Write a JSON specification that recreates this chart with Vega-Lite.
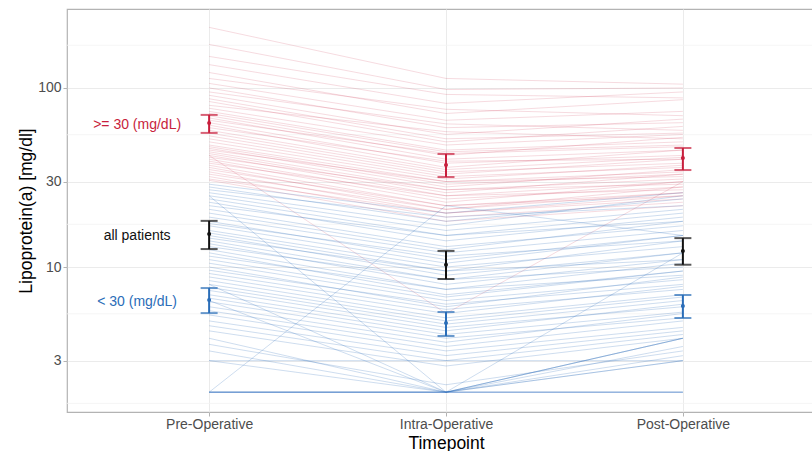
{
  "$schema": "https://vega.github.io/schema/vega-lite/v6.json",
  "width": 758,
  "height": 403,
  "autosize": {"type": "none"},
  "padding": {"left": 67, "top": 9, "right": 0, "bottom": 39},
  "background": "white",
  "config": {
    "view": {"stroke": "#b3b3b3", "strokeWidth": 1.2},
    "font": "Liberation Sans"
  },
  "datasets": {
    "minor": [{"v": 1.732}, {"v": 5.477}, {"v": 17.32}, {"v": 54.77}, {"v": 173.2}],
    "summary": [
      {"group": "high", "label": ">= 30 (mg/dL)", "time": "Pre-Operative", "mean": 63.7, "lo": 56.1, "hi": 70.7},
      {"group": "high", "label": ">= 30 (mg/dL)", "time": "Intra-Operative", "mean": 37.1, "lo": 31.8, "hi": 42.8},
      {"group": "high", "label": ">= 30 (mg/dL)", "time": "Post-Operative", "mean": 40.6, "lo": 34.8, "hi": 46.2},
      {"group": "all", "label": "all patients", "time": "Pre-Operative", "mean": 15.3, "lo": 12.6, "hi": 18.1},
      {"group": "all", "label": "all patients", "time": "Intra-Operative", "mean": 10.3, "lo": 8.57, "hi": 12.3},
      {"group": "all", "label": "all patients", "time": "Post-Operative", "mean": 12.3, "lo": 10.3, "hi": 14.5},
      {"group": "low", "label": "< 30 (mg/dL)", "time": "Pre-Operative", "mean": 6.54, "lo": 5.53, "hi": 7.63},
      {"group": "low", "label": "< 30 (mg/dL)", "time": "Intra-Operative", "mean": 4.87, "lo": 4.12, "hi": 5.61},
      {"group": "low", "label": "< 30 (mg/dL)", "time": "Post-Operative", "mean": 6.05, "lo": 5.19, "hi": 6.98}
    ],
    "patients": [
      {"id": "r1", "group": "high", "time": "Pre-Operative", "lpa": 218}, {"id": "r1", "group": "high", "time": "Intra-Operative", "lpa": 113}, {"id": "r1", "group": "high", "time": "Post-Operative", "lpa": 105},
      {"id": "r2", "group": "high", "time": "Pre-Operative", "lpa": 175}, {"id": "r2", "group": "high", "time": "Intra-Operative", "lpa": 98}, {"id": "r2", "group": "high", "time": "Post-Operative", "lpa": 100},
      {"id": "r3", "group": "high", "time": "Pre-Operative", "lpa": 150}, {"id": "r3", "group": "high", "time": "Intra-Operative", "lpa": 92}, {"id": "r3", "group": "high", "time": "Post-Operative", "lpa": 88},
      {"id": "r4", "group": "high", "time": "Pre-Operative", "lpa": 135}, {"id": "r4", "group": "high", "time": "Intra-Operative", "lpa": 82}, {"id": "r4", "group": "high", "time": "Post-Operative", "lpa": 95},
      {"id": "r5", "group": "high", "time": "Pre-Operative", "lpa": 122}, {"id": "r5", "group": "high", "time": "Intra-Operative", "lpa": 72}, {"id": "r5", "group": "high", "time": "Post-Operative", "lpa": 86},
      {"id": "r6", "group": "high", "time": "Pre-Operative", "lpa": 113}, {"id": "r6", "group": "high", "time": "Intra-Operative", "lpa": 76}, {"id": "r6", "group": "high", "time": "Post-Operative", "lpa": 70},
      {"id": "r7", "group": "high", "time": "Pre-Operative", "lpa": 106}, {"id": "r7", "group": "high", "time": "Intra-Operative", "lpa": 66}, {"id": "r7", "group": "high", "time": "Post-Operative", "lpa": 74},
      {"id": "r8", "group": "high", "time": "Pre-Operative", "lpa": 100}, {"id": "r8", "group": "high", "time": "Intra-Operative", "lpa": 60}, {"id": "r8", "group": "high", "time": "Post-Operative", "lpa": 64},
      {"id": "r9", "group": "high", "time": "Pre-Operative", "lpa": 95}, {"id": "r9", "group": "high", "time": "Intra-Operative", "lpa": 63}, {"id": "r9", "group": "high", "time": "Post-Operative", "lpa": 58},
      {"id": "r10", "group": "high", "time": "Pre-Operative", "lpa": 91}, {"id": "r10", "group": "high", "time": "Intra-Operative", "lpa": 55}, {"id": "r10", "group": "high", "time": "Post-Operative", "lpa": 67},
      {"id": "r11", "group": "high", "time": "Pre-Operative", "lpa": 87}, {"id": "r11", "group": "high", "time": "Intra-Operative", "lpa": 52}, {"id": "r11", "group": "high", "time": "Post-Operative", "lpa": 56},
      {"id": "r12", "group": "high", "time": "Pre-Operative", "lpa": 84}, {"id": "r12", "group": "high", "time": "Intra-Operative", "lpa": 50}, {"id": "r12", "group": "high", "time": "Post-Operative", "lpa": 61},
      {"id": "r13", "group": "high", "time": "Pre-Operative", "lpa": 80}, {"id": "r13", "group": "high", "time": "Intra-Operative", "lpa": 57}, {"id": "r13", "group": "high", "time": "Post-Operative", "lpa": 52},
      {"id": "r14", "group": "high", "time": "Pre-Operative", "lpa": 77}, {"id": "r14", "group": "high", "time": "Intra-Operative", "lpa": 48}, {"id": "r14", "group": "high", "time": "Post-Operative", "lpa": 55},
      {"id": "r15", "group": "high", "time": "Pre-Operative", "lpa": 74}, {"id": "r15", "group": "high", "time": "Intra-Operative", "lpa": 45}, {"id": "r15", "group": "high", "time": "Post-Operative", "lpa": 50},
      {"id": "r16", "group": "high", "time": "Pre-Operative", "lpa": 72}, {"id": "r16", "group": "high", "time": "Intra-Operative", "lpa": 44}, {"id": "r16", "group": "high", "time": "Post-Operative", "lpa": 48},
      {"id": "r17", "group": "high", "time": "Pre-Operative", "lpa": 70}, {"id": "r17", "group": "high", "time": "Intra-Operative", "lpa": 42}, {"id": "r17", "group": "high", "time": "Post-Operative", "lpa": 53},
      {"id": "r18", "group": "high", "time": "Pre-Operative", "lpa": 68}, {"id": "r18", "group": "high", "time": "Intra-Operative", "lpa": 40}, {"id": "r18", "group": "high", "time": "Post-Operative", "lpa": 45},
      {"id": "r19", "group": "high", "time": "Pre-Operative", "lpa": 66}, {"id": "r19", "group": "high", "time": "Intra-Operative", "lpa": 43}, {"id": "r19", "group": "high", "time": "Post-Operative", "lpa": 47},
      {"id": "r20", "group": "high", "time": "Pre-Operative", "lpa": 64}, {"id": "r20", "group": "high", "time": "Intra-Operative", "lpa": 38}, {"id": "r20", "group": "high", "time": "Post-Operative", "lpa": 42},
      {"id": "r21", "group": "high", "time": "Pre-Operative", "lpa": 62}, {"id": "r21", "group": "high", "time": "Intra-Operative", "lpa": 36}, {"id": "r21", "group": "high", "time": "Post-Operative", "lpa": 45},
      {"id": "r22", "group": "high", "time": "Pre-Operative", "lpa": 60}, {"id": "r22", "group": "high", "time": "Intra-Operative", "lpa": 39}, {"id": "r22", "group": "high", "time": "Post-Operative", "lpa": 40},
      {"id": "r23", "group": "high", "time": "Pre-Operative", "lpa": 58}, {"id": "r23", "group": "high", "time": "Intra-Operative", "lpa": 35}, {"id": "r23", "group": "high", "time": "Post-Operative", "lpa": 41},
      {"id": "r24", "group": "high", "time": "Pre-Operative", "lpa": 56}, {"id": "r24", "group": "high", "time": "Intra-Operative", "lpa": 34}, {"id": "r24", "group": "high", "time": "Post-Operative", "lpa": 38},
      {"id": "r25", "group": "high", "time": "Pre-Operative", "lpa": 54}, {"id": "r25", "group": "high", "time": "Intra-Operative", "lpa": 33}, {"id": "r25", "group": "high", "time": "Post-Operative", "lpa": 40},
      {"id": "r26", "group": "high", "time": "Pre-Operative", "lpa": 52}, {"id": "r26", "group": "high", "time": "Intra-Operative", "lpa": 32}, {"id": "r26", "group": "high", "time": "Post-Operative", "lpa": 36},
      {"id": "r27", "group": "high", "time": "Pre-Operative", "lpa": 50}, {"id": "r27", "group": "high", "time": "Intra-Operative", "lpa": 31}, {"id": "r27", "group": "high", "time": "Post-Operative", "lpa": 37},
      {"id": "r28", "group": "high", "time": "Pre-Operative", "lpa": 48}, {"id": "r28", "group": "high", "time": "Intra-Operative", "lpa": 30}, {"id": "r28", "group": "high", "time": "Post-Operative", "lpa": 34},
      {"id": "r29", "group": "high", "time": "Pre-Operative", "lpa": 47}, {"id": "r29", "group": "high", "time": "Intra-Operative", "lpa": 29}, {"id": "r29", "group": "high", "time": "Post-Operative", "lpa": 33},
      {"id": "r30", "group": "high", "time": "Pre-Operative", "lpa": 46}, {"id": "r30", "group": "high", "time": "Intra-Operative", "lpa": 28}, {"id": "r30", "group": "high", "time": "Post-Operative", "lpa": 35},
      {"id": "r31", "group": "high", "time": "Pre-Operative", "lpa": 45}, {"id": "r31", "group": "high", "time": "Intra-Operative", "lpa": 30}, {"id": "r31", "group": "high", "time": "Post-Operative", "lpa": 32},
      {"id": "r32", "group": "high", "time": "Pre-Operative", "lpa": 44}, {"id": "r32", "group": "high", "time": "Intra-Operative", "lpa": 27}, {"id": "r32", "group": "high", "time": "Post-Operative", "lpa": 31},
      {"id": "r33", "group": "high", "time": "Pre-Operative", "lpa": 43}, {"id": "r33", "group": "high", "time": "Intra-Operative", "lpa": 26}, {"id": "r33", "group": "high", "time": "Post-Operative", "lpa": 33},
      {"id": "r34", "group": "high", "time": "Pre-Operative", "lpa": 42}, {"id": "r34", "group": "high", "time": "Intra-Operative", "lpa": 25}, {"id": "r34", "group": "high", "time": "Post-Operative", "lpa": 30},
      {"id": "r35", "group": "high", "time": "Pre-Operative", "lpa": 41}, {"id": "r35", "group": "high", "time": "Intra-Operative", "lpa": 27}, {"id": "r35", "group": "high", "time": "Post-Operative", "lpa": 29},
      {"id": "r36", "group": "high", "time": "Pre-Operative", "lpa": 40}, {"id": "r36", "group": "high", "time": "Intra-Operative", "lpa": 24}, {"id": "r36", "group": "high", "time": "Post-Operative", "lpa": 28},
      {"id": "r37", "group": "high", "time": "Pre-Operative", "lpa": 39}, {"id": "r37", "group": "high", "time": "Intra-Operative", "lpa": 23}, {"id": "r37", "group": "high", "time": "Post-Operative", "lpa": 30},
      {"id": "r38", "group": "high", "time": "Pre-Operative", "lpa": 38}, {"id": "r38", "group": "high", "time": "Intra-Operative", "lpa": 25}, {"id": "r38", "group": "high", "time": "Post-Operative", "lpa": 27},
      {"id": "r39", "group": "high", "time": "Pre-Operative", "lpa": 37}, {"id": "r39", "group": "high", "time": "Intra-Operative", "lpa": 22}, {"id": "r39", "group": "high", "time": "Post-Operative", "lpa": 26},
      {"id": "r40", "group": "high", "time": "Pre-Operative", "lpa": 36}, {"id": "r40", "group": "high", "time": "Intra-Operative", "lpa": 21}, {"id": "r40", "group": "high", "time": "Post-Operative", "lpa": 28},
      {"id": "r41", "group": "high", "time": "Pre-Operative", "lpa": 35}, {"id": "r41", "group": "high", "time": "Intra-Operative", "lpa": 22}, {"id": "r41", "group": "high", "time": "Post-Operative", "lpa": 25},
      {"id": "r42", "group": "high", "time": "Pre-Operative", "lpa": 34}, {"id": "r42", "group": "high", "time": "Intra-Operative", "lpa": 20}, {"id": "r42", "group": "high", "time": "Post-Operative", "lpa": 24},
      {"id": "r43", "group": "high", "time": "Pre-Operative", "lpa": 33}, {"id": "r43", "group": "high", "time": "Intra-Operative", "lpa": 21}, {"id": "r43", "group": "high", "time": "Post-Operative", "lpa": 26},
      {"id": "r44", "group": "high", "time": "Pre-Operative", "lpa": 32}, {"id": "r44", "group": "high", "time": "Intra-Operative", "lpa": 19}, {"id": "r44", "group": "high", "time": "Post-Operative", "lpa": 23},
      {"id": "r45", "group": "high", "time": "Pre-Operative", "lpa": 31}, {"id": "r45", "group": "high", "time": "Intra-Operative", "lpa": 20}, {"id": "r45", "group": "high", "time": "Post-Operative", "lpa": 25},
      {"id": "r46", "group": "high", "time": "Pre-Operative", "lpa": 30.5}, {"id": "r46", "group": "high", "time": "Intra-Operative", "lpa": 18}, {"id": "r46", "group": "high", "time": "Post-Operative", "lpa": 22},
      {"id": "r47", "group": "high", "time": "Pre-Operative", "lpa": 42}, {"id": "r47", "group": "high", "time": "Intra-Operative", "lpa": 5.5}, {"id": "r47", "group": "high", "time": "Post-Operative", "lpa": 30},
      {"id": "b1", "group": "low", "time": "Pre-Operative", "lpa": 29}, {"id": "b1", "group": "low", "time": "Intra-Operative", "lpa": 20}, {"id": "b1", "group": "low", "time": "Post-Operative", "lpa": 26},
      {"id": "b2", "group": "low", "time": "Pre-Operative", "lpa": 28}, {"id": "b2", "group": "low", "time": "Intra-Operative", "lpa": 18}, {"id": "b2", "group": "low", "time": "Post-Operative", "lpa": 24},
      {"id": "b3", "group": "low", "time": "Pre-Operative", "lpa": 27}, {"id": "b3", "group": "low", "time": "Intra-Operative", "lpa": 19}, {"id": "b3", "group": "low", "time": "Post-Operative", "lpa": 22},
      {"id": "b4", "group": "low", "time": "Pre-Operative", "lpa": 26}, {"id": "b4", "group": "low", "time": "Intra-Operative", "lpa": 17}, {"id": "b4", "group": "low", "time": "Post-Operative", "lpa": 25},
      {"id": "b5", "group": "low", "time": "Pre-Operative", "lpa": 25}, {"id": "b5", "group": "low", "time": "Intra-Operative", "lpa": 16}, {"id": "b5", "group": "low", "time": "Post-Operative", "lpa": 21},
      {"id": "b6", "group": "low", "time": "Pre-Operative", "lpa": 24}, {"id": "b6", "group": "low", "time": "Intra-Operative", "lpa": 15}, {"id": "b6", "group": "low", "time": "Post-Operative", "lpa": 20},
      {"id": "b7", "group": "low", "time": "Pre-Operative", "lpa": 23}, {"id": "b7", "group": "low", "time": "Intra-Operative", "lpa": 14}, {"id": "b7", "group": "low", "time": "Post-Operative", "lpa": 19},
      {"id": "b8", "group": "low", "time": "Pre-Operative", "lpa": 22}, {"id": "b8", "group": "low", "time": "Intra-Operative", "lpa": 15}, {"id": "b8", "group": "low", "time": "Post-Operative", "lpa": 18},
      {"id": "b9", "group": "low", "time": "Pre-Operative", "lpa": 21}, {"id": "b9", "group": "low", "time": "Intra-Operative", "lpa": 13}, {"id": "b9", "group": "low", "time": "Post-Operative", "lpa": 17},
      {"id": "b10", "group": "low", "time": "Pre-Operative", "lpa": 20}, {"id": "b10", "group": "low", "time": "Intra-Operative", "lpa": 12.5}, {"id": "b10", "group": "low", "time": "Post-Operative", "lpa": 18},
      {"id": "b11", "group": "low", "time": "Pre-Operative", "lpa": 19}, {"id": "b11", "group": "low", "time": "Intra-Operative", "lpa": 12}, {"id": "b11", "group": "low", "time": "Post-Operative", "lpa": 16},
      {"id": "b12", "group": "low", "time": "Pre-Operative", "lpa": 18}, {"id": "b12", "group": "low", "time": "Intra-Operative", "lpa": 11}, {"id": "b12", "group": "low", "time": "Post-Operative", "lpa": 15},
      {"id": "b13", "group": "low", "time": "Pre-Operative", "lpa": 17.5}, {"id": "b13", "group": "low", "time": "Intra-Operative", "lpa": 11.5}, {"id": "b13", "group": "low", "time": "Post-Operative", "lpa": 14},
      {"id": "b14", "group": "low", "time": "Pre-Operative", "lpa": 17}, {"id": "b14", "group": "low", "time": "Intra-Operative", "lpa": 10.5}, {"id": "b14", "group": "low", "time": "Post-Operative", "lpa": 15},
      {"id": "b15", "group": "low", "time": "Pre-Operative", "lpa": 16}, {"id": "b15", "group": "low", "time": "Intra-Operative", "lpa": 10}, {"id": "b15", "group": "low", "time": "Post-Operative", "lpa": 13},
      {"id": "b16", "group": "low", "time": "Pre-Operative", "lpa": 15.5}, {"id": "b16", "group": "low", "time": "Intra-Operative", "lpa": 9.5}, {"id": "b16", "group": "low", "time": "Post-Operative", "lpa": 14},
      {"id": "b17", "group": "low", "time": "Pre-Operative", "lpa": 15}, {"id": "b17", "group": "low", "time": "Intra-Operative", "lpa": 9}, {"id": "b17", "group": "low", "time": "Post-Operative", "lpa": 12},
      {"id": "b18", "group": "low", "time": "Pre-Operative", "lpa": 14.5}, {"id": "b18", "group": "low", "time": "Intra-Operative", "lpa": 9.5}, {"id": "b18", "group": "low", "time": "Post-Operative", "lpa": 11},
      {"id": "b19", "group": "low", "time": "Pre-Operative", "lpa": 14}, {"id": "b19", "group": "low", "time": "Intra-Operative", "lpa": 8.5}, {"id": "b19", "group": "low", "time": "Post-Operative", "lpa": 12},
      {"id": "b20", "group": "low", "time": "Pre-Operative", "lpa": 13.5}, {"id": "b20", "group": "low", "time": "Intra-Operative", "lpa": 8}, {"id": "b20", "group": "low", "time": "Post-Operative", "lpa": 11},
      {"id": "b21", "group": "low", "time": "Pre-Operative", "lpa": 13}, {"id": "b21", "group": "low", "time": "Intra-Operative", "lpa": 8.5}, {"id": "b21", "group": "low", "time": "Post-Operative", "lpa": 10},
      {"id": "b22", "group": "low", "time": "Pre-Operative", "lpa": 12.5}, {"id": "b22", "group": "low", "time": "Intra-Operative", "lpa": 7.5}, {"id": "b22", "group": "low", "time": "Post-Operative", "lpa": 10.5},
      {"id": "b23", "group": "low", "time": "Pre-Operative", "lpa": 12}, {"id": "b23", "group": "low", "time": "Intra-Operative", "lpa": 7}, {"id": "b23", "group": "low", "time": "Post-Operative", "lpa": 9.5},
      {"id": "b24", "group": "low", "time": "Pre-Operative", "lpa": 11.5}, {"id": "b24", "group": "low", "time": "Intra-Operative", "lpa": 7.5}, {"id": "b24", "group": "low", "time": "Post-Operative", "lpa": 9},
      {"id": "b25", "group": "low", "time": "Pre-Operative", "lpa": 11}, {"id": "b25", "group": "low", "time": "Intra-Operative", "lpa": 6.8}, {"id": "b25", "group": "low", "time": "Post-Operative", "lpa": 9.5},
      {"id": "b26", "group": "low", "time": "Pre-Operative", "lpa": 10.5}, {"id": "b26", "group": "low", "time": "Intra-Operative", "lpa": 6.5}, {"id": "b26", "group": "low", "time": "Post-Operative", "lpa": 8.5},
      {"id": "b27", "group": "low", "time": "Pre-Operative", "lpa": 10}, {"id": "b27", "group": "low", "time": "Intra-Operative", "lpa": 6}, {"id": "b27", "group": "low", "time": "Post-Operative", "lpa": 8.8},
      {"id": "b28", "group": "low", "time": "Pre-Operative", "lpa": 9.6}, {"id": "b28", "group": "low", "time": "Intra-Operative", "lpa": 6.2}, {"id": "b28", "group": "low", "time": "Post-Operative", "lpa": 8},
      {"id": "b29", "group": "low", "time": "Pre-Operative", "lpa": 9.2}, {"id": "b29", "group": "low", "time": "Intra-Operative", "lpa": 5.8}, {"id": "b29", "group": "low", "time": "Post-Operative", "lpa": 7.5},
      {"id": "b30", "group": "low", "time": "Pre-Operative", "lpa": 8.8}, {"id": "b30", "group": "low", "time": "Intra-Operative", "lpa": 5.5}, {"id": "b30", "group": "low", "time": "Post-Operative", "lpa": 7.8},
      {"id": "b31", "group": "low", "time": "Pre-Operative", "lpa": 8.4}, {"id": "b31", "group": "low", "time": "Intra-Operative", "lpa": 5.2}, {"id": "b31", "group": "low", "time": "Post-Operative", "lpa": 7},
      {"id": "b32", "group": "low", "time": "Pre-Operative", "lpa": 8}, {"id": "b32", "group": "low", "time": "Intra-Operative", "lpa": 5}, {"id": "b32", "group": "low", "time": "Post-Operative", "lpa": 6.8},
      {"id": "b33", "group": "low", "time": "Pre-Operative", "lpa": 7.7}, {"id": "b33", "group": "low", "time": "Intra-Operative", "lpa": 4.8}, {"id": "b33", "group": "low", "time": "Post-Operative", "lpa": 6.5},
      {"id": "b34", "group": "low", "time": "Pre-Operative", "lpa": 7.4}, {"id": "b34", "group": "low", "time": "Intra-Operative", "lpa": 4.6}, {"id": "b34", "group": "low", "time": "Post-Operative", "lpa": 6},
      {"id": "b35", "group": "low", "time": "Pre-Operative", "lpa": 7}, {"id": "b35", "group": "low", "time": "Intra-Operative", "lpa": 4.4}, {"id": "b35", "group": "low", "time": "Post-Operative", "lpa": 6.2},
      {"id": "b36", "group": "low", "time": "Pre-Operative", "lpa": 6.7}, {"id": "b36", "group": "low", "time": "Intra-Operative", "lpa": 4.2}, {"id": "b36", "group": "low", "time": "Post-Operative", "lpa": 5.6},
      {"id": "b37", "group": "low", "time": "Pre-Operative", "lpa": 6.4}, {"id": "b37", "group": "low", "time": "Intra-Operative", "lpa": 4}, {"id": "b37", "group": "low", "time": "Post-Operative", "lpa": 5.2},
      {"id": "b38", "group": "low", "time": "Pre-Operative", "lpa": 6}, {"id": "b38", "group": "low", "time": "Intra-Operative", "lpa": 3.8}, {"id": "b38", "group": "low", "time": "Post-Operative", "lpa": 5.5},
      {"id": "b39", "group": "low", "time": "Pre-Operative", "lpa": 5.7}, {"id": "b39", "group": "low", "time": "Intra-Operative", "lpa": 3.6}, {"id": "b39", "group": "low", "time": "Post-Operative", "lpa": 5},
      {"id": "b40", "group": "low", "time": "Pre-Operative", "lpa": 5.4}, {"id": "b40", "group": "low", "time": "Intra-Operative", "lpa": 3.4}, {"id": "b40", "group": "low", "time": "Post-Operative", "lpa": 4.6},
      {"id": "b41", "group": "low", "time": "Pre-Operative", "lpa": 5}, {"id": "b41", "group": "low", "time": "Intra-Operative", "lpa": 3.2}, {"id": "b41", "group": "low", "time": "Post-Operative", "lpa": 4.4},
      {"id": "b42", "group": "low", "time": "Pre-Operative", "lpa": 4.7}, {"id": "b42", "group": "low", "time": "Intra-Operative", "lpa": 3}, {"id": "b42", "group": "low", "time": "Post-Operative", "lpa": 4.2},
      {"id": "b43", "group": "low", "time": "Pre-Operative", "lpa": 4.4}, {"id": "b43", "group": "low", "time": "Intra-Operative", "lpa": 2.8}, {"id": "b43", "group": "low", "time": "Post-Operative", "lpa": 4},
      {"id": "b44", "group": "low", "time": "Pre-Operative", "lpa": 4}, {"id": "b44", "group": "low", "time": "Intra-Operative", "lpa": 2}, {"id": "b44", "group": "low", "time": "Post-Operative", "lpa": 3.6},
      {"id": "b45", "group": "low", "time": "Pre-Operative", "lpa": 3.7}, {"id": "b45", "group": "low", "time": "Intra-Operative", "lpa": 2.2}, {"id": "b45", "group": "low", "time": "Post-Operative", "lpa": 3.4},
      {"id": "b46", "group": "low", "time": "Pre-Operative", "lpa": 3.4}, {"id": "b46", "group": "low", "time": "Intra-Operative", "lpa": 2}, {"id": "b46", "group": "low", "time": "Post-Operative", "lpa": 3.2},
      {"id": "b47", "group": "low", "time": "Pre-Operative", "lpa": 3}, {"id": "b47", "group": "low", "time": "Intra-Operative", "lpa": 3}, {"id": "b47", "group": "low", "time": "Post-Operative", "lpa": 3},
      {"id": "b48", "group": "low", "time": "Pre-Operative", "lpa": 3}, {"id": "b48", "group": "low", "time": "Intra-Operative", "lpa": 2}, {"id": "b48", "group": "low", "time": "Post-Operative", "lpa": 4},
      {"id": "b49", "group": "low", "time": "Pre-Operative", "lpa": 2}, {"id": "b49", "group": "low", "time": "Intra-Operative", "lpa": 2}, {"id": "b49", "group": "low", "time": "Post-Operative", "lpa": 2},
      {"id": "b50", "group": "low", "time": "Pre-Operative", "lpa": 2}, {"id": "b50", "group": "low", "time": "Intra-Operative", "lpa": 2}, {"id": "b50", "group": "low", "time": "Post-Operative", "lpa": 2},
      {"id": "b51", "group": "low", "time": "Pre-Operative", "lpa": 2}, {"id": "b51", "group": "low", "time": "Intra-Operative", "lpa": 2}, {"id": "b51", "group": "low", "time": "Post-Operative", "lpa": 2},
      {"id": "b52", "group": "low", "time": "Pre-Operative", "lpa": 2}, {"id": "b52", "group": "low", "time": "Intra-Operative", "lpa": 2}, {"id": "b52", "group": "low", "time": "Post-Operative", "lpa": 3},
      {"id": "b53", "group": "low", "time": "Pre-Operative", "lpa": 2}, {"id": "b53", "group": "low", "time": "Intra-Operative", "lpa": 2}, {"id": "b53", "group": "low", "time": "Post-Operative", "lpa": 4},
      {"id": "b54", "group": "low", "time": "Pre-Operative", "lpa": 2}, {"id": "b54", "group": "low", "time": "Intra-Operative", "lpa": 2}, {"id": "b54", "group": "low", "time": "Post-Operative", "lpa": 2},
      {"id": "b55", "group": "low", "time": "Pre-Operative", "lpa": 2}, {"id": "b55", "group": "low", "time": "Intra-Operative", "lpa": 22}, {"id": "b55", "group": "low", "time": "Post-Operative", "lpa": 15},
      {"id": "b56", "group": "low", "time": "Pre-Operative", "lpa": 25}, {"id": "b56", "group": "low", "time": "Intra-Operative", "lpa": 2}, {"id": "b56", "group": "low", "time": "Post-Operative", "lpa": 12},
      {"id": "b57", "group": "low", "time": "Pre-Operative", "lpa": 8}, {"id": "b57", "group": "low", "time": "Intra-Operative", "lpa": 2}, {"id": "b57", "group": "low", "time": "Post-Operative", "lpa": 4},
      {"id": "b58", "group": "low", "time": "Pre-Operative", "lpa": 6.5}, {"id": "b58", "group": "low", "time": "Intra-Operative", "lpa": 2}, {"id": "b58", "group": "low", "time": "Post-Operative", "lpa": 3}
    ]
  },
  "encoding": {
    "x": {
      "field": "time",
      "type": "nominal",
      "scale": {"type": "point", "domain": ["Pre-Operative", "Intra-Operative", "Post-Operative"], "padding": 0.6, "range": [0, 758]},
      "axis": {"title": "Timepoint", "grid": true, "gridColor": "#ebebeb", "domain": false, "tickColor": "#b3b3b3", "tickSize": 4, "labelAngle": 0, "labelColor": "#4d4d4d", "labelFontSize": 14, "labelPadding": 1, "labelFont": "Liberation Sans", "titleFont": "Liberation Sans", "titleFontSize": 17.5, "titleFontWeight": "normal", "titleColor": "#000000", "titlePadding": 3}
    },
    "y": {
      "field": "lpa",
      "type": "quantitative",
      "title": "Lipoprotein(a) [mg/dl]",
      "scale": {"type": "log", "domain": [1.55, 276], "nice": false, "zero": false},
      "axis": {"title": "Lipoprotein(a) [mg/dl]", "values": [3, 10, 30, 100], "format": "d", "grid": true, "gridColor": "#ebebeb", "domain": false, "tickColor": "#b3b3b3", "tickSize": 4, "labelColor": "#4d4d4d", "labelFontSize": 14, "labelPadding": 2, "labelFont": "Liberation Sans", "titleFont": "Liberation Sans", "titleFontSize": 17.5, "titleFontWeight": "normal", "titleColor": "#000000", "titlePadding": 2}
    },
    "color": {"field": "group", "type": "nominal", "scale": {"domain": ["high", "all", "low"], "range": ["#c81e3c", "#111111", "#2a6db8"]}, "legend": null}
  },
  "layer": [
    {
      "data": {"name": "minor"},
      "mark": {"type": "rule", "color": "#f3f3f3", "strokeWidth": 0.8},
      "encoding": {
        "x": null,
        "color": null,
        "y": {"field": "v", "type": "quantitative", "title": "Lipoprotein(a) [mg/dl]"}
      }
    },
    {
      "data": {"name": "patients"},
      "mark": {"type": "line", "strokeWidth": 1},
      "encoding": {
        "detail": {"field": "id"},
        "opacity": {"field": "group", "type": "nominal", "scale": {"domain": ["high", "low"], "range": [0.16, 0.23]}, "legend": null}
      }
    },
    {
      "data": {"name": "summary"},
      "mark": {"type": "rule", "strokeWidth": 2},
      "encoding": {
        "y": {"field": "lo", "type": "quantitative", "title": "Lipoprotein(a) [mg/dl]"},
        "y2": {"field": "hi"}
      }
    },
    {
      "data": {"name": "summary"},
      "mark": {"type": "tick", "size": 17, "thickness": 2},
      "encoding": {
        "y": {"field": "lo", "type": "quantitative", "title": "Lipoprotein(a) [mg/dl]"}
      }
    },
    {
      "data": {"name": "summary"},
      "mark": {"type": "tick", "size": 17, "thickness": 2},
      "encoding": {
        "y": {"field": "hi", "type": "quantitative", "title": "Lipoprotein(a) [mg/dl]"}
      }
    },
    {
      "data": {"name": "summary"},
      "mark": {"type": "point", "filled": true, "size": 16, "opacity": 1},
      "encoding": {
        "y": {"field": "mean", "type": "quantitative", "title": "Lipoprotein(a) [mg/dl]"}
      }
    },
    {
      "data": {"name": "summary"},
      "transform": [{"filter": "datum.time === 'Pre-Operative'"}],
      "mark": {"type": "text", "dx": -72, "dy": 2, "align": "center", "baseline": "middle", "fontSize": 14, "font": "Liberation Sans"},
      "encoding": {
        "y": {"field": "mean", "type": "quantitative", "title": "Lipoprotein(a) [mg/dl]"},
        "text": {"field": "label"}
      }
    }
  ]
}
